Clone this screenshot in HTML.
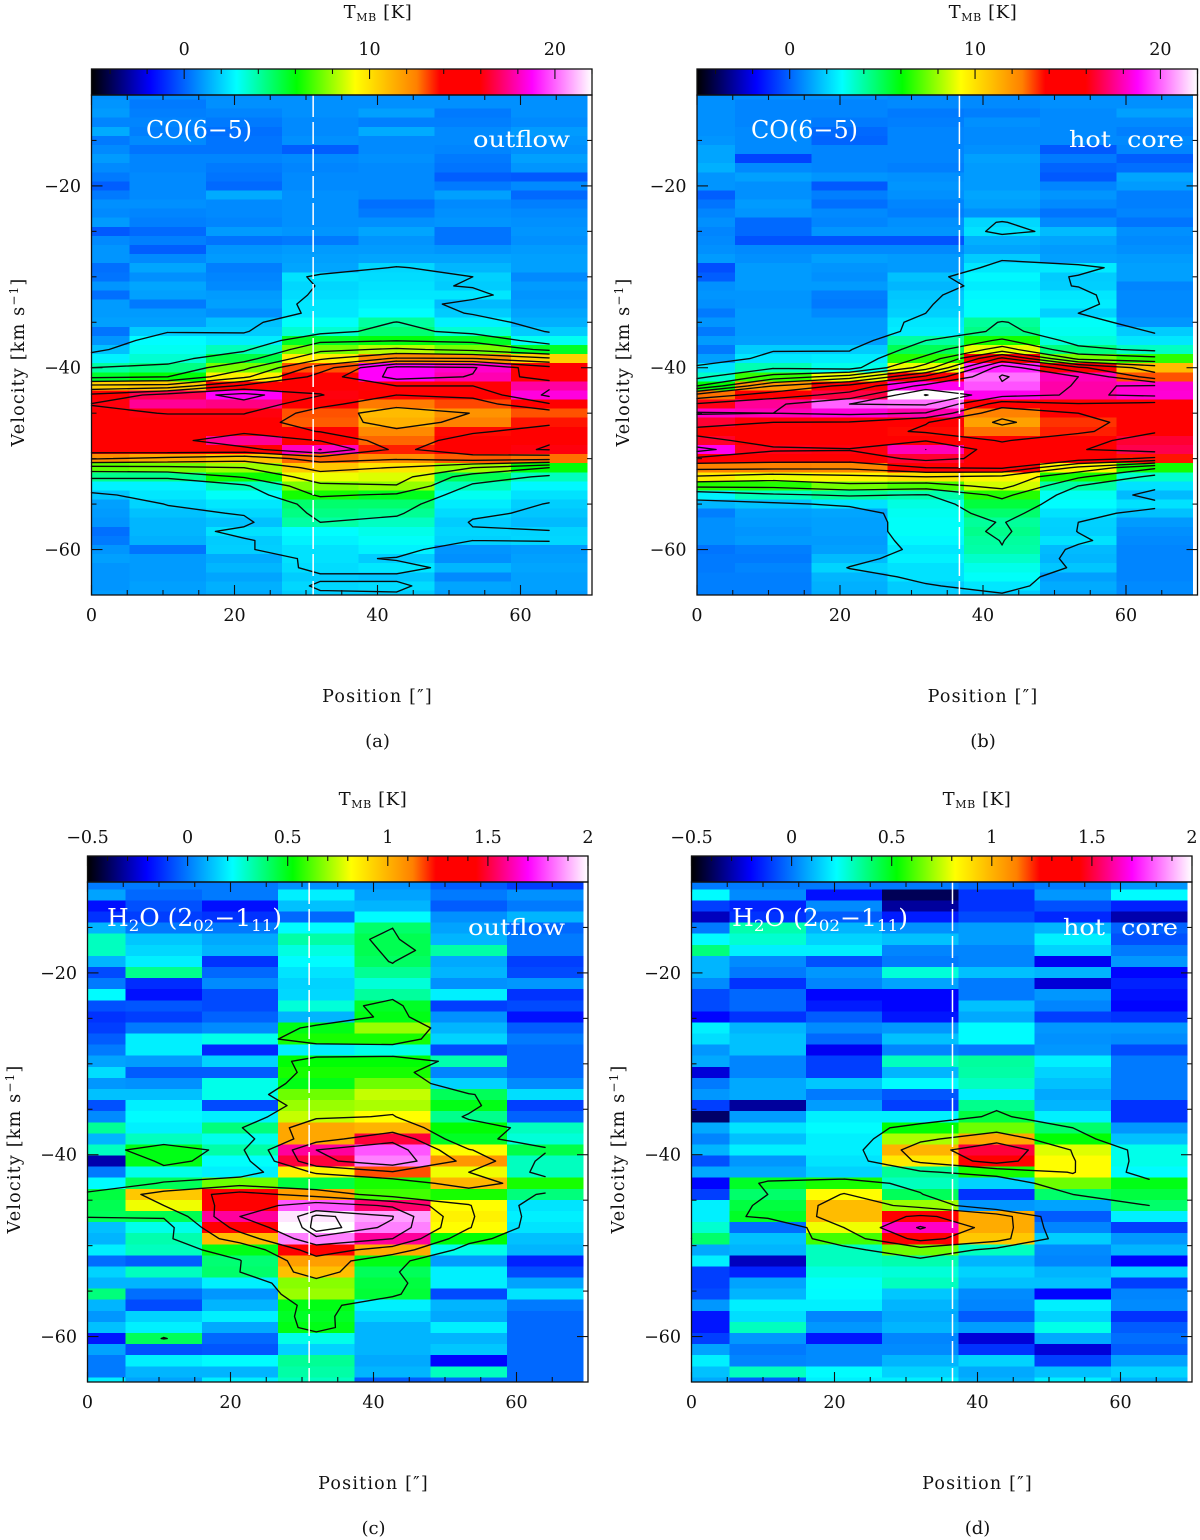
<!DOCTYPE html>
<html lang="en">
<head>
<meta charset="utf-8">
<title>CO and H2O position-velocity diagrams</title>
<style>
html,body{margin:0;padding:0;background:#fff;}
svg{display:block;}
text{font-family:"DejaVu Serif","Liberation Serif",serif;fill:#111;}
</style>
</head>
<body>
<svg id="chart" xmlns="http://www.w3.org/2000/svg" width="1200" height="1540" viewBox="0 0 1200 1540">
<rect x="0" y="0" width="1200" height="1540" fill="#fff"/>
</svg>
<script>
// ---- shared categories and axes ----
const positions = [0, 10.67, 21.33, 32, 42.67, 53.33, 64];
const xTickLabels = [0, 20, 40, 60];
const xMinorTicks = [5, 10, 15, 25, 30, 35, 45, 50, 55, 65];
const velocityTickLabels = [-20, -40, -60];
const velocityMinorTicks = [-15, -25, -30, -35, -45, -50, -55];
const coVelocityStart = -10;
const coVelocityStep = -1;
const h2oVelocityStart = -10.2;
const h2oVelocityStep = -1.22;
const coRange = [-5, 22];
const h2oRange = [-0.5, 2];
const coBarLabels = [0, 10, 20];
const coBarMinor = [-4, -2, 2, 4, 6, 8, 12, 14, 16, 18, 22];
const h2oBarLabels = [-0.5, 0, 0.5, 1, 1.5, 2];
const h2oBarMinor = [-0.4, -0.3, -0.2, -0.1, 0.1, 0.2, 0.3, 0.4, 0.6, 0.7, 0.8, 0.9, 1.1, 1.2, 1.3, 1.4, 1.6, 1.7, 1.8, 1.9];
const coLevels = [2, 4, 6, 8, 10, 12, 14, 16, 18, 20, 22];
const h2oLevels = [0.4, 0.8, 1.2, 1.6, 1.88, 1.95];

// ---- series values: T_MB [K], one row per velocity channel, one column per position ----
const coOutflow = [
[.8,.7,.8,.8,.8,.8,.8],
[.9,.4,.8,.8,.8,.8,.8],
[1,.5,.6,.8,1.1,.4,.8],
[.6,.6,.4,.7,.5,.5,.7],
[1.3,.5,.2,.7,1.3,.7,1],
[.4,.7,.3,.8,.7,.7,.9],
[.7,.3,.3,-.1,.7,.6,.8],
[1,.6,.6,.7,.8,.4,1.1],
[.7,.6,.4,.6,.7,.3,.9],
[.4,.7,.3,.7,.7,-.1,-.2],
[-.1,.7,.1,.7,.7,.4,.7],
[.4,.7,1.3,.8,.7,1.1,.1],
[.8,.8,.7,.8,.2,.7,.5],
[.7,.6,.7,.8,.4,.8,.7],
[1,.5,.6,.8,.8,.9,.8],
[-.2,.1,1,.9,1.2,.3,.9],
[.7,.5,.3,.4,.9,.3,.8],
[.9,-.1,.9,1,1,.9,1],
[.9,.7,1,1.1,1.2,1.2,1.1],
[.2,1.2,.5,1.2,2.1,1.5,1.1],
[.3,.8,.6,2.3,2.2,2,.7],
[.9,1.2,.7,2.1,2.3,1.9,1],
[.2,1.1,1,2.2,2.4,2.4,.9],
[1,.4,1.1,2.4,2.6,1.6,1],
[1,1,.8,2.4,2.8,1.9,1.2],
[1.1,1.1,1.7,2.9,4.05,2.6,1.4],
[.3,1.9,1.9,3.4,4.6,3.4,1.9],
[.9,2.8,2.5,5.6,5.9,5.6,3],
[1.7,3,3.7,7.5,8.3,7.5,5.6],
[2.6,3.4,5.2,9.7,12.3,12.1,10.4],
[4,4.4,7.5,13,18.7,18.2,14.5],
[5.5,6,9.6,14.9,18.7,17.9,14.8],
[10.5,10.7,14.5,15.3,16,16,17.7],
[14.4,16.8,18.7,16.1,14,14.5,18.4],
[16.1,17.6,17.4,14.6,12.6,13.1,15.8],
[15.4,16.1,16.1,13,11,12.05,13],
[15,15,15,12.9,11.3,12.5,13.6],
[15,15,15.5,13.9,12.3,13.7,14.8],
[15,15.2,17.6,15.9,12.8,15,15.9],
[15,15.3,15.3,18.05,13.5,15.5,16.1],
[12.2,11.5,10.8,12.8,12.2,12.9,12.7],
[7.2,7.5,8,10.7,9.9,8,6],
[4.3,4.3,6.2,9,8.8,5,3.7],
[2.6,2.6,3.7,7.6,7.9,3.7,2.7],
[1.8,2.4,2.9,6.3,5.7,3,2.3],
[1.1,2.05,2.4,4.7,4.7,2.5,1.95],
[1,1.7,2.1,4.4,4.2,2.2,1.8],
[.9,1.5,1.7,4,3.6,1.9,1.6],
[.2,1.5,2.3,2.8,3.1,2.1,2.05],
[.4,1.4,1.9,2.6,2.9,2,2.1],
[.9,.3,1.95,2.3,2.6,.9,1],
[1.1,1,1.3,2.3,1.9,.8,1.1],
[.9,1,1.5,2.2,2.4,1.5,1.2],
[.9,1,1.2,1.9,1.8,.7,1.1],
[.9,1.1,1.4,2.1,2.2,1.2,1.1],
[1,1.1,1.3,1.9,1.9,1.1,1]
];
const coHotCore = [
[.8,.8,.8,.7,.7,.8,.8],
[.8,.6,.6,.7,.7,.8,.8],
[.8,.6,.6,.4,.5,.7,1.1],
[.8,.6,.4,.5,.8,.7,.7],
[.8,.7,.1,.6,.7,.7,.5],
[.9,.7,0,.6,.7,.7,.7],
[1.2,.7,.6,.6,.8,-.2,.6],
[1.2,-.6,.6,.6,1.1,.4,-.1],
[1.4,.7,.6,.5,1,0,.2],
[.9,1.1,.9,.8,1,-.2,1.2],
[.9,.8,-.2,.9,1,.6,1],
[-.1,.8,.5,.8,1.2,.9,.5],
[.3,1,.2,.6,1.1,.7,.5],
[.6,.9,.7,.5,.8,.3,.6],
[.8,.1,.6,.8,2.1,.7,.3],
[.6,.1,.9,.9,2.3,1.6,.8],
[.7,-.3,-.3,-.3,1.4,1.2,.7],
[.8,.7,.7,.7,1.2,1,.8],
[1,.8,1.1,1,1.9,1.1,1],
[-.4,1,.9,1,2.4,2.46,1.1],
[-.1,1,.8,1.7,2.7,1.9,1.1],
[.8,1,1,1.5,2.5,1.95,.6],
[.9,.9,.5,1.8,2.7,2.4,.7],
[.8,.9,.4,1.9,2.9,2.5,.7],
[.4,1,.7,2,2.9,2,.7],
[.9,1,1,2.4,4.1,2.9,.9],
[.4,1,1,2.5,4.4,3,1.9],
[1,1.1,1.1,4,6.3,3.3,2.4],
[.4,1.9,1.9,5,8.9,4.5,3.6],
[1.1,2.4,2.5,6.5,14.5,7.5,6.6],
[2.3,3.8,3.1,9,19.2,14.4,11],
[3.5,6.7,9,14.5,20.2,18,13],
[6,12,14.6,18.6,19.8,17.8,18.2],
[12.7,15,16.7,22.1,18.6,17.8,18.3],
[16.2,17.6,20,20.2,15,15.9,15.5],
[18.2,18,18.4,17.9,12.5,14,15],
[16.5,16,15.9,14.1,11.7,13.3,15],
[15.6,15,15,13.7,12.7,13.5,15.9],
[16.4,15.5,15,15.9,13.8,15.6,16.5],
[18.6,16.2,16.1,18,15,15.9,16.8],
[15.6,15,15,16.5,15.5,15,13.6],
[12.5,12.5,12.4,14,14.3,9.5,6.3],
[9.8,9,9.5,10,9.5,6.3,3.5],
[6.5,6.5,7.5,7,8.7,4,2.3],
[2.6,3.7,4.2,3.9,6.5,3,1.6],
[1.5,1.7,2.3,3.2,5.3,2.8,2.3],
[.5,1.1,1.2,3,4.7,2.3,1.7],
[.8,1,1.1,2.9,4.1,2,1],
[.8,.9,1.1,2.9,4.3,1.95,.8],
[.8,1,1,2.7,4.05,2.3,.7],
[.3,.5,1.1,2.4,3.95,1.6,.6],
[.4,.4,1.6,2.6,3.5,1.5,.6],
[.4,.6,2.05,2.3,3.1,1.8,.6],
[.5,.5,1.5,2.3,2.9,1.1,.6],
[.5,.5,1.4,1.9,2.4,1.3,.7],
[.5,.5,1.3,1.9,1.9,1.2,.7]
];
const h2oOutflow = [
[0,0,0,.04,.04,-.05,-.1],
[.07,-.03,0,.2,.07,0,.04],
[-.18,-.07,-.18,.12,.1,-.05,0],
[-.12,-.1,-.12,-.03,.22,.04,.1],
[.1,0,0,.22,.4,.07,-.03],
[.3,.13,.08,.33,.43,.1,0],
[.3,.16,.1,.26,.43,.33,0],
[.1,.2,-.12,.22,.41,.08,-.1],
[-.08,.36,-.03,.18,.35,.1,-.08],
[0,-.13,.03,.15,.27,.04,.05],
[.22,-.18,-.08,.16,.34,.2,-.12],
[-.07,-.06,-.08,.27,.48,-.1,-.08],
[-.12,-.1,-.04,.1,.5,.04,-.18],
[-.1,0,.03,.5,.7,.1,-.05],
[-.05,.2,.25,.55,.55,.15,0],
[0,.2,-.14,.2,.25,-.08,-.03],
[.07,.06,.15,.52,.52,.32,-.03],
[.17,-.05,-.05,.55,.55,.02,-.03],
[.05,.04,.25,.5,.65,.15,.03],
[.12,.12,.25,.65,.75,.42,.17],
[-.07,.2,-.08,.7,.72,.5,-.1],
[.03,.22,.2,.75,.82,.36,-.04],
[.35,.2,.38,1.03,1,.52,.3],
[.1,.3,.25,1.03,1.5,.48,.27],
[.3,.5,.33,1.6,1.8,.82,.44],
[-.3,.5,.23,1.5,1.85,1.07,.3],
[0,.25,.2,.85,1.17,.8,.3],
[.22,.42,.65,.45,.55,1,.55],
[.45,.95,1.35,1.05,.6,.55,.38],
[.43,.8,1.4,1.8,1.55,.82,.18],
[.42,.43,1.6,1.97,1.89,.85,.2],
[.12,.25,1.35,2,1.85,.82,.18],
[.1,.32,.98,1.85,1.6,.52,.12],
[.2,.3,.5,1.4,1.02,.25,.1],
[-.02,-.05,.39,1.05,.5,.06,-.15],
[.15,.3,.4,.97,.42,.2,-.08],
[.1,.1,.2,.68,.45,.2,.07],
[.38,-.02,.05,.7,.46,-.08,.18],
[.1,-.08,.1,.5,.2,.1,0],
[.05,.15,.2,.48,.15,.08,-.03],
[.12,.2,.08,.5,.1,.2,-.03],
[-.17,.42,-.03,.25,.1,.1,-.03],
[.07,-.07,-.06,.15,.1,.13,-.03],
[0,.2,.22,.35,.08,-.2,-.03],
[0,.1,.1,.33,.1,.3,-.03],
[.2,.07,.2,.3,-.05,-.03,-.03]
];
const h2oHotCore = [
[0,0,0,0,-.03,0,.05],
[.22,.03,-.18,-.4,-.12,.05,.22],
[-.1,-.15,.03,-.32,-.12,-.07,-.15],
[-.28,-.12,-.05,-.16,-.08,-.14,-.3],
[0,.32,.1,.04,.06,.1,-.04],
[.22,.28,.15,.12,.06,.2,-.07],
[.38,.2,.2,.02,.02,.15,0],
[.1,.03,-.07,0,.02,-.22,.05],
[.1,0,.05,.27,.12,.1,-.2],
[.03,-.12,.02,.07,0,-.25,-.15],
[-.08,-.03,-.2,-.2,0,.05,-.18],
[-.08,-.03,-.16,-.2,.12,.02,-.2],
[-.2,-.12,-.05,-.17,.08,-.1,-.12],
[.2,.1,.03,.05,.22,.05,.05],
[.17,.12,-.03,.12,.22,.04,.03],
[.05,.12,-.22,.02,0,.05,-.08],
[.08,.02,-.1,.3,.34,.2,0],
[-.25,.02,-.1,.1,.33,.15,0],
[0,.08,.13,.22,.3,.12,0],
[.05,.08,0,-.06,.2,.08,0],
[-.1,-.32,.06,-.1,.36,.1,-.12],
[-.38,.06,.2,.2,.45,.2,-.12],
[.08,.18,.22,.52,.65,.4,.05],
[.02,.12,.2,.72,1.03,.52,.12],
[.1,.2,.2,1,1.5,.78,.25],
[-.07,.05,.18,.87,1.35,.82,.25],
[.08,.08,.15,.35,.55,.82,.22],
[-.2,.48,.55,.3,.15,.65,.5],
[-.1,.4,.82,.42,-.12,.4,.45],
[.2,.45,.98,.7,.05,.07,.4],
[.2,.48,.98,1.25,1.02,-.05,.2],
[.28,-.02,.8,1.64,1.02,.02,-.1],
[.4,.12,.6,1.32,.95,.14,.05],
[.08,.1,.3,.65,.3,.03,.1],
[.2,-.28,.3,.32,.1,.02,-.2],
[-.1,-.15,.26,.27,.15,.1,.15],
[-.1,.07,.23,.3,.12,.12,-.1],
[-.08,.1,.22,.13,.03,-.2,.02],
[.05,.2,.2,.1,.02,.2,.03],
[-.17,.17,.02,.08,-.05,.15,-.12],
[-.17,.3,.05,.1,.06,.25,-.05],
[-.1,.05,-.17,.02,-.25,.08,-.02],
[.07,0,.03,.03,-.12,-.25,-.05],
[.2,.02,.03,.1,.15,-.1,.07],
[.12,.3,.22,.15,.08,.12,.15],
[.08,-.05,.2,.2,.1,.2,.1]
];

// ---- colour map: fraction of the colour bar -> rgb ----
const colorStops = [
  [0, [0, 0, 0]], [0.118, [0, 0, 255]], [0.29, [0, 255, 255]], [0.41, [0, 255, 0]],
  [0.527, [255, 255, 0]], [0.65, [255, 128, 0]], [0.696, [255, 0, 0]], [0.776, [255, 0, 0]],
  [0.88, [255, 0, 255]], [1, [255, 255, 255]]
];
function colorAt(f) {
  f = Math.max(0, Math.min(1, f));
  for (let i = 1; i < colorStops.length; i++) {
    if (f <= colorStops[i][0]) {
      const a = colorStops[i - 1], b = colorStops[i];
      const t = (f - a[0]) / (b[0] - a[0]);
      const c = a[1].map((v, k) => Math.round(v + (b[1][k] - v) * t));
      return 'rgb(' + c.join(',') + ')';
    }
  }
  return 'rgb(255,255,255)';
}

const NS = 'http://www.w3.org/2000/svg';
const svg = document.getElementById('chart');
function make(tag, attrs, parent) {
  const el = document.createElementNS(NS, tag);
  for (const k in attrs) el.setAttribute(k, attrs[k]);
  (parent || svg).appendChild(el);
  return el;
}
function fmt(v) { return String(v).replace('-', '\u2212'); }
function tspan(parent, str, attrs) {
  const t = make('tspan', attrs || {}, parent);
  t.textContent = str;
  return t;
}

function marchingSquares(rows, level, xS, yS, velOf) {
  let d = '';
  for (let i = 0; i + 1 < rows.length; i++) {
    for (let j = 0; j + 1 < positions.length; j++) {
      const a = rows[i][j], b = rows[i][j + 1], c = rows[i + 1][j + 1], e = rows[i + 1][j];
      const idx = (a >= level ? 8 : 0) | (b >= level ? 4 : 0) | (c >= level ? 2 : 0) | (e >= level ? 1 : 0);
      if (idx === 0 || idx === 15) continue;
      const x0 = positions[j], x1 = positions[j + 1], v0 = velOf(i), v1 = velOf(i + 1);
      const top = () => [xS(x0 + (level - a) / (b - a) * (x1 - x0)), yS(v0)];
      const right = () => [xS(x1), yS(v0 + (level - b) / (c - b) * (v1 - v0))];
      const bottom = () => [xS(x0 + (level - e) / (c - e) * (x1 - x0)), yS(v1)];
      const left = () => [xS(x0), yS(v0 + (level - a) / (e - a) * (v1 - v0))];
      const avg = (a + b + c + e) / 4;
      let segs = [];
      switch (idx) {
        case 1: case 14: segs = [[left, bottom]]; break;
        case 2: case 13: segs = [[bottom, right]]; break;
        case 3: case 12: segs = [[left, right]]; break;
        case 4: case 11: segs = [[top, right]]; break;
        case 6: case 9: segs = [[top, bottom]]; break;
        case 7: case 8: segs = [[left, top]]; break;
        case 5: segs = avg >= level ? [[left, top], [bottom, right]] : [[left, bottom], [top, right]]; break;
        case 10: segs = avg >= level ? [[left, bottom], [top, right]] : [[left, top], [bottom, right]]; break;
      }
      segs.forEach(s => {
        const p = s[0](), q = s[1]();
        d += 'M' + p[0].toFixed(1) + ' ' + p[1].toFixed(1) + 'L' + q[0].toFixed(1) + ' ' + q[1].toFixed(1);
      });
    }
  }
  return d;
}

const panels = [
  { id: 'a', rows: coOutflow, vStart: coVelocityStart, vStep: coVelocityStep, range: coRange, levels: coLevels,
    barLabels: coBarLabels, barMinor: coBarMinor, x0: 91.5, top: 95, dash: 31, species: 'co', region: 'outflow',
    unitX: 378, unitY: 12, barLabelY: 49, titleX: 146, titleW: 106, titleY: 138, regionX: 473, regionW: 97, regionY: 147, yLabelX: 18 },
  { id: 'b', rows: coHotCore, vStart: coVelocityStart, vStep: coVelocityStep, range: coRange, levels: coLevels,
    barLabels: coBarLabels, barMinor: coBarMinor, x0: 697, top: 95, dash: 36.7, species: 'co', region: 'hot  core',
    unitX: 983, unitY: 12, barLabelY: 49, titleX: 751, titleW: 107, titleY: 138, regionX: 1069, regionW: 115, regionY: 147, yLabelX: 623 },
  { id: 'c', rows: h2oOutflow, vStart: h2oVelocityStart, vStep: h2oVelocityStep, range: h2oRange, levels: h2oLevels,
    barLabels: h2oBarLabels, barMinor: h2oBarMinor, x0: 87.5, top: 882, dash: 31, species: 'h2o', region: 'outflow',
    unitX: 373, unitY: 799, barLabelY: 837, titleX: 107, titleW: 175, titleY: 926, regionX: 468, regionW: 97, regionY: 935, yLabelX: 14 },
  { id: 'd', rows: h2oHotCore, vStart: h2oVelocityStart, vStep: h2oVelocityStep, range: h2oRange, levels: h2oLevels,
    barLabels: h2oBarLabels, barMinor: h2oBarMinor, x0: 691.5, top: 882, dash: 36.5, species: 'h2o', region: 'hot  core',
    unitX: 977, unitY: 799, barLabelY: 837, titleX: 732, titleW: 176, titleY: 926, regionX: 1063, regionW: 115, regionY: 935, yLabelX: 618 }
];

panels.forEach(drawPanel);

function drawPanel(p) {
  const W = 500.5, H = 500, BAR = 26;
  const xS = pos => p.x0 + pos / 70 * W;
  const yS = v => p.top + (v + 10) / (-55) * H;
  const barS = t => p.x0 + (t - p.range[0]) / (p.range[1] - p.range[0]) * W;
  const velOf = i => p.vStart + p.vStep * i;

  const g = make('g', {});
  
  

  // heat map cells
  const heat = make('g', { 'shape-rendering': 'crispEdges' }, g);
  
  
  const half = (positions[1] - positions[0]) / 2;
  p.rows.forEach((row, i) => {
    const v = velOf(i);
    const yTop = yS(Math.min(-10, v - p.vStep / 2));
    const yBot = yS(Math.max(-65, v + p.vStep / 2));
    if (yBot <= yTop) return;
    row.forEach((t, j) => {
      const xL = xS(Math.max(0, positions[j] - half));
      const xR = xS(positions[j] + half);
      const f = (t - p.range[0]) / (p.range[1] - p.range[0]);
      const cell = make('rect', { x: xL.toFixed(1), y: yTop.toFixed(1), width: (xR - xL).toFixed(1), height: (yBot - yTop + 0.3).toFixed(1), fill: colorAt(f) }, heat);
      
      
    });
  });

  // contours
  const contours = make('g', { fill: 'none', stroke: '#0a0a0a', 'stroke-width': 1.35, 'stroke-linecap': 'round' }, g);
  
  
  p.levels.forEach(level => {
    const d = marchingSquares(p.rows, level, xS, yS, velOf);
    if (!d) return;
    const path = make('path', { d: d }, contours);
    
    
  });

  // dashed source position marker
  const dash = make('line', { x1: xS(p.dash), x2: xS(p.dash), y1: p.top, y2: p.top + H, stroke: '#fff', 'stroke-width': 1.5, 'stroke-dasharray': '22 5' }, g);
  
  

  // colour bar
  const gradId = 'grad-' + p.id;
  const defs = make('defs', {}, g);
  const grad = make('linearGradient', { id: gradId, x1: 0, x2: 1, y1: 0, y2: 0 }, defs);
  colorStops.forEach(s => make('stop', { offset: s[0], 'stop-color': 'rgb(' + s[1].join(',') + ')' }, grad));
  const bar = make('rect', { x: p.x0, y: p.top - BAR, width: W, height: BAR, fill: 'url(#' + gradId + ')', stroke: '#111', 'stroke-width': 1.3 }, g);
  
  
  const ticks = make('g', { stroke: '#111', 'stroke-width': 1.1 }, g);
  
  
  p.barLabels.forEach(t => {
    make('line', { x1: barS(t), x2: barS(t), y1: p.top - BAR, y2: p.top - BAR + 10 }, ticks);
    const label = make('text', { x: barS(t), y: p.barLabelY + 6, 'text-anchor': 'middle', 'font-size': 17.5 }, g);
    label.textContent = fmt(t);
    
    
  });
  p.barMinor.forEach(t => {
    make('line', { x1: barS(t), x2: barS(t), y1: p.top - BAR, y2: p.top - BAR + 5 }, ticks);
  });

  // frame and ticks
  const frame = make('rect', { x: p.x0, y: p.top, width: W, height: H, fill: 'none', stroke: '#111', 'stroke-width': 1.3 }, g);
  
  
  xTickLabels.forEach(t => {
    const x = xS(t);
    make('line', { x1: x, x2: x, y1: p.top, y2: p.top + 10 }, ticks);
    make('line', { x1: x, x2: x, y1: p.top + H, y2: p.top + H - 10 }, ticks);
    const label = make('text', { x: x, y: p.top + H + 26, 'text-anchor': 'middle', 'font-size': 17.5 }, g);
    label.textContent = fmt(t);
    
    
  });
  xMinorTicks.forEach(t => {
    const x = xS(t);
    make('line', { x1: x, x2: x, y1: p.top, y2: p.top + 5 }, ticks);
    make('line', { x1: x, x2: x, y1: p.top + H, y2: p.top + H - 5 }, ticks);
  });
  velocityTickLabels.forEach(t => {
    const y = yS(t);
    make('line', { x1: p.x0, x2: p.x0 + 11, y1: y, y2: y }, ticks);
    make('line', { x1: p.x0 + W, x2: p.x0 + W - 11, y1: y, y2: y }, ticks);
    const label = make('text', { x: p.x0 - 10.5, y: y + 6, 'text-anchor': 'end', 'font-size': 17.5 }, g);
    label.textContent = fmt(t);
    
    
  });
  velocityMinorTicks.forEach(t => {
    const y = yS(t);
    make('line', { x1: p.x0, x2: p.x0 + 5, y1: y, y2: y }, ticks);
    make('line', { x1: p.x0 + W, x2: p.x0 + W - 5, y1: y, y2: y }, ticks);
  });

  // colour bar unit
  const unit = make('text', { x: p.unitX, y: p.unitY + 6, 'text-anchor': 'middle', 'font-size': 18, 'letter-spacing': 0.6 }, g);
  
  
  tspan(unit, 'T');
  tspan(unit, 'MB', { dy: 3, 'font-size': 11 });
  tspan(unit, ' [K]', { dy: -3 });

  // x axis title and panel letter
  const xTitle = make('text', { x: xS(0) + W * 0.5715, y: p.top + H + 107, 'text-anchor': 'middle', 'font-size': 17.5, 'letter-spacing': 1.2 }, g);
  xTitle.textContent = 'Position [\u2033]';
  
  
  const letter = make('text', { x: xS(0) + W * 0.5715, y: p.top + H + 152, 'text-anchor': 'middle', 'font-size': 18 }, g);
  letter.textContent = '(' + p.id + ')';
  
  

  // y axis title
  const yMid = p.top + 267;
  const yTitle = make('text', { transform: 'translate(' + (p.yLabelX + 6) + ' ' + yMid + ') rotate(-90)', 'text-anchor': 'middle', 'font-size': 17.5, 'letter-spacing': 1.2 }, g);
  
  
  tspan(yTitle, 'Velocity [km s');
  tspan(yTitle, '\u22121', { dy: -6, 'font-size': 12 });
  tspan(yTitle, ']', { dy: 6 });

  // in-plot labels
  const title = make('text', { x: p.titleX, y: p.titleY, 'font-size': 24, style: 'fill:#fff', textLength: p.titleW, lengthAdjust: 'spacingAndGlyphs' }, g);
  
  
  if (p.species === 'co') {
    title.textContent = 'CO(6\u22125)';
  } else {
    tspan(title, 'H');
    tspan(title, '2', { dy: 5, 'font-size': 16 });
    tspan(title, 'O (2', { dy: -5 });
    tspan(title, '02', { dy: 5, 'font-size': 16 });
    tspan(title, '\u22121', { dy: -5 });
    tspan(title, '11', { dy: 5, 'font-size': 16 });
    tspan(title, ')', { dy: -5 });
  }
  const region = make('text', { x: p.regionX, y: p.regionY, 'font-size': 22, style: 'fill:#fff;white-space:pre', textLength: p.regionW, lengthAdjust: 'spacingAndGlyphs' }, g);
  region.textContent = p.region;
  
  
}
</script>
</body>
</html>
